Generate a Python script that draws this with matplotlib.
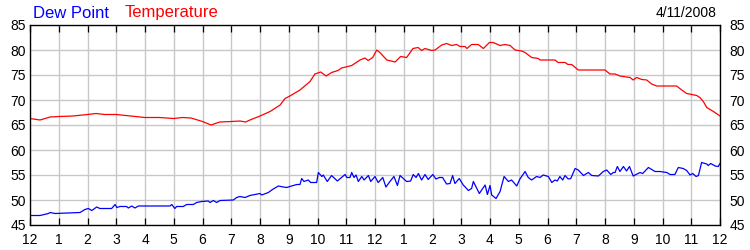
import matplotlib
matplotlib.use("Agg")
import matplotlib.pyplot as plt

plt.rcParams["font.family"] = ["Liberation Sans", "DejaVu Sans"]

# hours since midnight, degrees F
temp_hours = [0, 0.35, 0.70, 1.0, 1.5, 2.0, 2.3, 2.6, 3.0, 3.5, 4.0, 4.5, 5.0, 5.3,
              5.6, 6.0, 6.3, 6.6, 7.0, 7.3, 7.5, 7.65, 8.0, 8.35, 8.70, 8.87, 9.04,
              9.39, 9.74, 9.91, 10.11, 10.30, 10.49, 10.71, 10.84, 11.19, 11.48,
              11.65, 11.76, 11.92, 12.06, 12.17, 12.41, 12.70, 12.89, 13.10, 13.32,
              13.50, 13.62, 13.74, 13.97, 14.09, 14.32, 14.49, 14.67, 14.84, 14.96,
              15.13, 15.20, 15.36, 15.59, 15.77, 15.98, 16.11, 16.35, 16.52, 16.70,
              16.87, 17.10, 17.22, 17.45, 17.68, 17.74, 18.26, 18.37, 18.61, 18.71,
              18.84, 19.07, 20.0, 20.17, 20.35, 20.52, 20.87, 20.98, 21.10, 21.28,
              21.45, 21.62, 21.80, 22.49, 22.67, 22.84, 23.02, 23.19, 23.30, 23.42,
              23.54, 23.77, 24.0]
temp_values = [66.3, 66.0, 66.6, 66.7, 66.8, 67.1, 67.3, 67.1, 67.1, 66.8, 66.5, 66.5,
               66.3, 66.5, 66.4, 65.7, 65.0, 65.6, 65.7, 65.8, 65.6, 66.0, 66.8, 67.7,
               69.0, 70.3, 70.8, 72.0, 73.7, 75.2, 75.6, 74.8, 75.5, 75.9, 76.4, 76.9,
               78.0, 78.4, 77.9, 78.5, 80.0, 79.5, 78.0, 77.6, 78.7, 78.5, 80.3, 80.5,
               79.9, 80.3, 79.9, 80.0, 81.0, 81.3, 80.9, 81.1, 80.7, 80.7, 80.3, 81.1,
               81.1, 80.3, 81.5, 81.5, 80.9, 81.1, 80.9, 80.0, 79.8, 79.5, 78.5, 78.3,
               78.0, 78.0, 77.5, 77.5, 77.1, 77.1, 76.0, 76.0, 75.2, 75.2, 74.8, 74.5,
               74.0, 74.5, 74.1, 74.0, 73.2, 72.8, 72.8, 72.0, 71.3, 71.1, 70.9, 70.5,
               69.7, 68.5, 67.7, 66.8]

dew_hours = [0, 0.35, 0.64, 0.70, 0.87, 1.74, 1.91, 2.03, 2.15, 2.32, 2.43, 2.84, 2.96,
             3.02, 3.13, 3.36, 3.42, 3.54, 3.65, 3.77, 4.87, 4.93, 5.04, 5.10, 5.33,
             5.45, 5.68, 5.80, 5.97, 6.20, 6.26, 6.38, 6.49, 6.61, 7.07, 7.19, 7.30,
             7.48, 7.65, 8.00, 8.06, 8.29, 8.46, 8.64, 8.81, 8.93, 9.04, 9.28, 9.39,
             9.45, 9.53, 9.68, 9.76, 9.97, 10.03, 10.15, 10.20, 10.34, 10.49, 10.69,
             10.96, 11.02, 11.13, 11.19, 11.27, 11.34, 11.42, 11.54, 11.62, 11.77,
             11.85, 12.00, 12.11, 12.27, 12.38, 12.52, 12.66, 12.78, 12.87, 13.10,
             13.24, 13.33, 13.43, 13.51, 13.62, 13.74, 13.85, 14.01, 14.12, 14.24,
             14.35, 14.49, 14.61, 14.70, 14.78, 14.93, 15.07, 15.25, 15.36, 15.42,
             15.63, 15.71, 15.83, 15.91, 16.00, 16.06, 16.21, 16.35, 16.49, 16.64,
             16.75, 16.93, 17.04, 17.22, 17.33, 17.45, 17.62, 17.74, 17.85, 18.03,
             18.15, 18.26, 18.34, 18.43, 18.53, 18.61, 18.72, 18.81, 18.96, 19.07,
             19.25, 19.42, 19.54, 19.77, 19.94, 20.06, 20.20, 20.29, 20.35, 20.43,
             20.52, 20.64, 20.75, 20.85, 20.98, 21.22, 21.31, 21.51, 21.74, 21.91,
             22.15, 22.26, 22.43, 22.55, 22.72, 22.84, 22.96, 23.05, 23.17, 23.25,
             23.36, 23.54, 23.59, 23.68, 23.83, 23.94, 24.00]
dew_values = [46.9, 46.9, 47.3, 47.5, 47.3, 47.5, 48.1, 48.3, 47.9, 48.6, 48.3, 48.3,
              49.1, 48.5, 48.7, 48.7, 48.4, 48.8, 48.4, 48.8, 48.8, 49.1, 48.3, 48.7,
              48.7, 49.1, 49.1, 49.5, 49.7, 49.8, 49.5, 49.9, 49.5, 49.9, 50.0, 50.5,
              50.7, 50.5, 50.9, 51.3, 51.0, 51.5, 52.2, 52.8, 52.6, 52.5, 52.7, 53.1,
              53.1, 54.3, 53.7, 54.0, 53.5, 53.5, 55.5, 54.7, 55.0, 53.7, 54.9, 53.8,
              55.1, 54.5, 54.5, 55.5, 54.5, 55.0, 53.7, 54.7, 54.0, 54.9, 53.7, 54.7,
              53.5, 54.5, 52.6, 53.7, 54.7, 52.9, 54.9, 53.7, 53.8, 55.1, 54.5, 55.3,
              54.0, 55.1, 54.1, 55.1, 54.2, 54.5, 54.5, 53.2, 53.3, 54.9, 53.3, 54.3,
              53.0, 51.9, 52.3, 53.7, 51.3, 52.0, 53.0, 51.1, 52.9, 51.0, 50.3, 51.7,
              54.7, 53.7, 54.0, 52.8, 54.2, 55.7, 54.5, 54.0, 54.7, 54.5, 55.0, 54.7,
              53.5, 54.0, 53.8, 54.7, 54.0, 54.9, 54.2, 54.3, 56.3, 56.0, 54.9, 55.5,
              54.9, 54.8, 55.7, 56.0, 55.1, 55.5, 55.5, 56.7, 55.7, 56.7, 55.8, 56.7,
              54.8, 55.5, 55.3, 56.5, 55.7, 55.7, 55.5, 55.1, 55.1, 56.5, 56.3, 55.9,
              55.0, 55.3, 54.7, 54.9, 57.5, 57.2, 56.9, 57.3, 56.8, 56.7, 57.3]

hour_ticks = list(range(25))
hour_labels = ["12"] + [str(h) for h in range(1, 12)] + ["12"] + [str(h) for h in range(1, 12)] + ["12"]
y_ticks = [45, 50, 55, 60, 65, 70, 75, 80, 85]
date_label = "4/11/2008"

fig = plt.figure(figsize=(7.5, 2.5), dpi=100)
ax = fig.add_axes([0.04, 0.10, 0.92, 0.80])

ax.plot(temp_hours, temp_values, color="#ff0000", lw=0.9, zorder=3)
ax.plot(dew_hours, dew_values, color="#0000ff", lw=0.9, zorder=3)

ax.set_xlim(0, 24)
ax.set_ylim(45, 85)
ax.set_xticks(hour_ticks)
ax.set_xticklabels(hour_labels)
ax.set_yticks(y_ticks)
ax.grid(True, color="#c8c8c8", lw=1.0)
ax.set_axisbelow(True)
for s in ax.spines.values():
    s.set_linewidth(0.9)

ax.tick_params(axis="x", direction="in", length=5, width=0.9, top=True,
               labelsize=10, pad=6)
ax.tick_params(axis="y", length=0, labelsize=10, pad=3)

ax2 = ax.twinx()
ax2.set_ylim(45, 85)
ax2.set_yticks(y_ticks)
ax2.tick_params(axis="y", length=0, labelsize=10, pad=7)

fig.text(0.044, 0.93, "Dew Point", color="#0000ff", fontsize=12, ha="left", va="baseline")
fig.text(0.166, 0.93, "Temperature", color="#ff0000", fontsize=12, ha="left", va="baseline")
fig.text(0.956, 0.932, date_label, color="black", fontsize=10, ha="right", va="baseline")

fig.savefig("out.png", dpi=100)
